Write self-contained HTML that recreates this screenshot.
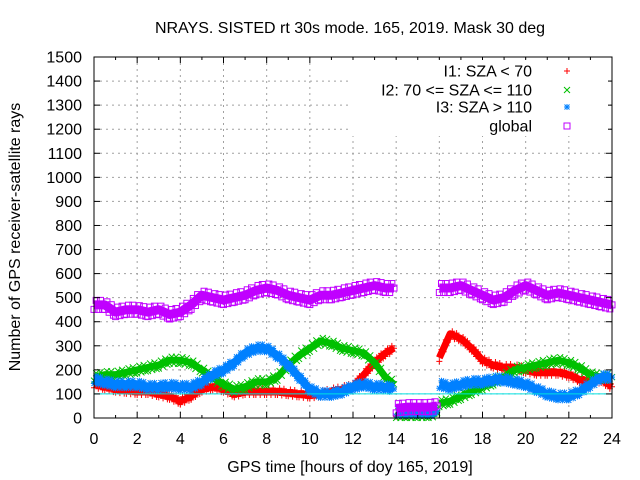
<!DOCTYPE html>
<html><head><meta charset="utf-8"><style>
body{margin:0;background:#fff}
svg{display:block;font-family:"Liberation Sans",sans-serif}
</style></head><body>
<svg id="c" width="640" height="480"></svg>
<script>
const times=[0,0.5,1,1.5,2,2.5,3,3.5,4,4.5,5,5.5,6,6.5,7,7.5,8,8.5,9,9.5,10,10.5,11,11.5,12,12.5,13,13.5,13.9,null,14,14.5,15,15.5,15.9,null,16,16.5,17,17.5,18,18.5,19,19.5,20,20.5,21,21.5,22,22.5,23,23.5,24];
const i1=[140,130,120,115,110,110,100,90,70,90,120,130,120,100,110,110,110,110,105,100,95,100,110,120,130,180,230,270,290,null,20,20,25,25,25,null,250,350,330,290,240,220,210,210,200,190,190,190,180,160,150,160,130];
const i2=[170,180,180,190,200,210,220,240,240,230,200,170,140,120,130,150,150,170,220,260,290,320,310,290,280,270,230,170,140,null,15,15,15,15,20,null,60,70,90,110,130,150,170,200,210,220,230,240,230,210,180,170,170];
const i3=[160,150,140,140,140,130,130,135,130,130,150,180,200,230,270,290,290,260,220,170,120,100,100,110,130,140,130,130,120,null,25,25,25,25,25,null,140,130,140,150,150,160,160,150,140,120,100,90,90,110,140,170,170];
const glob=[470,470,440,450,450,440,450,430,440,470,510,500,490,500,510,530,540,530,510,500,490,510,510,520,530,540,550,540,540,null,40,45,45,45,50,null,540,540,550,530,510,490,500,530,550,530,510,520,510,500,490,480,470];
const yTicks=[0,100,200,300,400,500,600,700,800,900,1000,1100,1200,1300,1400,1500];
const xTicks=[0,2,4,6,8,10,12,14,16,18,20,22,24];
const refLine=100;

const NS="http://www.w3.org/2000/svg";
const svg=document.getElementById('c');
const L=94,R=612,T=57,B=418;
const X=v=>L+(R-L)*v/24, Y=v=>B-(B-T)*v/1500;
function mk(tag,at,parent){const e=document.createElementNS(NS,tag);for(const k in at)e.setAttribute(k,at[k]);(parent||svg).appendChild(e);return e;}

yTicks.forEach(v=>{if(v>0&&v<1500){const g=mk('line',{x1:L,x2:R,y1:Y(v),y2:Y(v),stroke:'#a0a0a0','stroke-dasharray':'2,4','stroke-width':1});

}});
xTicks.forEach(v=>{if(v>0&&v<24){const g=mk('line',{x1:X(v),x2:X(v),y1:T,y2:B,stroke:'#a0a0a0','stroke-dasharray':'2,4','stroke-width':1});

}});

function marker(g,type,x,y,col){
  if(type==='plus'){mk('path',{d:`M${x-3} ${y}h6M${x} ${y-3}v6`,stroke:col,'stroke-width':1,fill:'none'},g);}
  else if(type==='x'){mk('path',{d:`M${x-3} ${y-3}l6 6M${x-3} ${y+3}l6 -6`,stroke:col,'stroke-width':1,fill:'none'},g);}
  else if(type==='star'){mk('path',{d:`M${x-3} ${y}h6M${x} ${y-3}v6M${x-2.5} ${y-2.5}l5 5M${x-2.5} ${y+2.5}l5 -5`,stroke:col,'stroke-width':1,fill:'none'},g);}
  else {mk('rect',{x:x-3,y:y-3,width:6,height:6,stroke:col,'stroke-width':1,fill:'none'},g);}
}
function series(vals,col,type,name,w){
  const g=mk('g',{});
  
  
  let seg=[];const segs=[];
  for(let i=0;i<times.length;i++){
    if(times[i]===null||vals[i]===null){if(seg.length)segs.push(seg);seg=[];continue;}
    seg.push([times[i],vals[i]]);
  }
  if(seg.length)segs.push(seg);
  segs.forEach(s=>{
    mk('polyline',{points:s.map(p=>X(p[0])+','+Y(p[1])).join(' '),fill:'none',stroke:col,'stroke-width':w,'stroke-linejoin':'round','stroke-linecap':'butt'},g);
    for(let i=0;i<s.length-1;i++){
      const a=s[i],b=s[i+1];const n=Math.max(1,Math.round((b[0]-a[0])/0.1));
      for(let k=0;k<n;k++){const f=k/n;const t=a[0]+(b[0]-a[0])*f,v=a[1]+(b[1]-a[1])*f;
        marker(g,type,X(t),Y(v)+((k%2)?-w/2:w/2),col);}
    }
    const e=s[s.length-1];marker(g,type,X(e[0]),Y(e[1]),col);
  });
}
series(i1,'#ff0000','plus','series-i1',7);
series(i2,'#00c000','x','series-i2',7);
series(i3,'#0080ff','star','series-i3',8);
const rl=mk('line',{x1:L,x2:R,y1:Y(refLine),y2:Y(refLine),stroke:'#00e0e0','stroke-width':1});


series(glob,'#c000ff','square','series-global',9);

const bd=mk('rect',{x:L,y:T,width:R-L,height:B-T,fill:'none',stroke:'#000','stroke-width':1});


yTicks.forEach(v=>{
  mk('line',{x1:L,x2:L+6,y1:Y(v),y2:Y(v),stroke:'#000'});mk('line',{x1:R-6,x2:R,y1:Y(v),y2:Y(v),stroke:'#000'});
  const t=mk('text',{x:82,y:Y(v)+5.5,'text-anchor':'end','font-size':16});t.textContent=v;
  
  
});
xTicks.forEach(v=>{
  mk('line',{x1:X(v),x2:X(v),y1:B,y2:B-6,stroke:'#000'});mk('line',{x1:X(v),x2:X(v),y1:T,y2:T+6,stroke:'#000'});
  const t=mk('text',{x:X(v),y:444,'text-anchor':'middle','font-size':16});t.textContent=v;
  
  
});
for(let v=1;v<24;v+=2){mk('line',{x1:X(v),x2:X(v),y1:B,y2:B-3,stroke:'#000'});mk('line',{x1:X(v),x2:X(v),y1:T,y2:T+3,stroke:'#000'});}

const lg=mk('g',{});


mk('rect',{x:350,y:60,width:258,height:76,fill:'#fff'},lg);
[['I1: SZA < 70','#ff0000','plus',71],['I2: 70 <= SZA <= 110','#00c000','x',90],['I3: SZA > 110','#0080ff','star',107],['global','#c000ff','square',126]].forEach(e=>{
  const t=mk('text',{x:532,y:e[3]+5.5,'text-anchor':'end','font-size':16},lg);t.textContent=e[0];
  
  
  marker(lg,e[2],567,e[3],e[1]);
});

const ti=mk('text',{x:350,y:33,'text-anchor':'middle','font-size':16});ti.textContent='NRAYS. SISTED rt 30s mode. 165, 2019. Mask 30 deg';


const xt=mk('text',{x:350,y:472,'text-anchor':'middle','font-size':16});xt.textContent='GPS time [hours of doy 165, 2019]';


const yt=mk('text',{x:20,y:237,'text-anchor':'middle','font-size':16,transform:'rotate(-90 20 237)'});yt.textContent='Number of GPS receiver-satellite rays';


</script>
</body></html>
